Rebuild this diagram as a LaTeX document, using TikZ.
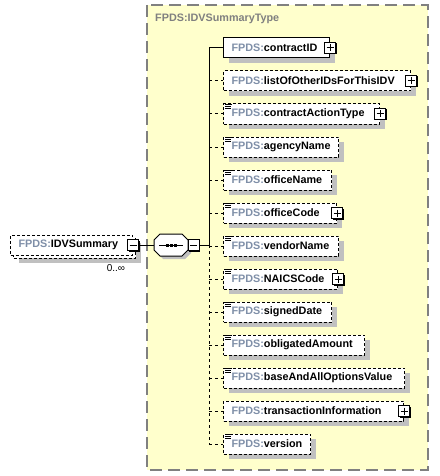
\documentclass[tikz,border=0pt]{standalone}
\usepackage{fontspec}
\setmainfont{Liberation Sans}
\usetikzlibrary{shadows,calc}
\definecolor{ylw}{RGB}{255,255,204}
\definecolor{bordergray}{RGB}{128,128,128}
\definecolor{shd}{RGB}{192,192,192}
\definecolor{pfx}{RGB}{127,143,168}
\newcommand\elt[1]{\textcolor{pfx}{FPDS:}#1}
\tikzset{
  elem/.style={draw=black, line width=1pt, fill=white, anchor=west,
    minimum height=20pt, inner xsep=8pt, inner ysep=0pt,
    text width=#1, align=left,
    font=\fontsize{10.8}{12}\selectfont\bfseries,
    drop shadow={shadow xshift=5pt,shadow yshift=-5pt,fill=shd,opacity=1}},
  optbox/.style={dash pattern=on 3pt off 2pt},
  conn/.style={line width=1pt},
  dconn/.style={line width=1pt, dash pattern=on 3pt off 3pt},
  pics/plusb/.style={code={
    \fill[black] (-4.5,-4.5) rectangle (6.5,6.5);
    \draw[fill=white, line width=1pt] (-5.5,-5.5) rectangle (5.5,5.5);
    \draw[line width=1pt] (-3.5,0) -- (3.5,0) (0,-3.5) -- (0,3.5);
  }},
  pics/minusb/.style={code={
    \fill[black] (-4.5,-4.5) rectangle (6.5,6.5);
    \draw[fill=white, line width=1pt] (-5.5,-5.5) rectangle (5.5,5.5);
    \draw[line width=1pt] (-3.5,0) -- (3.5,0);
  }},
  pics/simpleicon/.style={code={
    \draw[line width=0.9pt] (2,0.5) -- (9,0.5) (2,2.5) -- (8,2.5) (2,4.5) -- (8,4.5);
  }},
}
\begin{document}
\begin{tikzpicture}[x=1pt,y=-1pt]
\useasboundingbox (0,0) rectangle (439,476);
% type box
\draw[fill=ylw, draw=bordergray, line width=1.5pt, dash pattern=on 12pt off 6pt]
  (147,5) rectangle (428,470);
\node[anchor=west, inner sep=0pt, text=bordergray,
  font=\fontsize{10.8}{12}\selectfont\bfseries] (title) at (155,19) {FPDS:IDVSummaryType};

% elements
\node[elem=90] (e1) at (223,48) {\elt{contractID}};
\node[elem=171, optbox] (e2) at (223,81) {\elt{listOfOtherIDsForThisIDV}};
\node[elem=140, optbox] (e3) at (223,114) {\elt{contractActionType}};
\node[elem=99, optbox] (e4) at (223,147) {\elt{agencyName}};
\node[elem=92, optbox] (e5) at (223,180) {\elt{officeName}};
\node[elem=97, optbox] (e6) at (223,213) {\elt{officeCode}};
\node[elem=99, optbox] (e7) at (223,246) {\elt{vendorName}};
\node[elem=98, optbox] (e8) at (223,279) {\elt{NAICSCode}};
\node[elem=92, optbox] (e9) at (223,312) {\elt{signedDate}};
\node[elem=125, optbox] (e10) at (223,345) {\elt{obligatedAmount}};
\node[elem=165, optbox] (e11) at (223,378) {\elt{baseAndAllOptionsValue}};
\node[elem=164, optbox] (e12) at (223,411) {\elt{transactionInformation}};
\node[elem=71, optbox] (e13) at (223,444) {\elt{version}};

\foreach \n in {e1,e2,e3,e6,e8,e12} \pic at (\n.east) {plusb};
\foreach \n in {e3,e4,e5,e6,e7,e8,e9,e10,e11,e13} \pic at (\n.north west) {simpleicon};

% sequence compositor
\coordinate (jx) at (209,245);
\coordinate (seqL) at (154,245);
\coordinate (seqR) at (188,245);
\fill[shd] (163,237) -- (185,237) -- (191,243) -- (191,253) -- (185,259) -- (163,259) -- (157,253) -- (157,243) -- cycle;
\draw[fill=white, line width=1pt] (160,234) -- (182,234) -- (188,240) -- (188,250) -- (182,256) -- (160,256) -- (154,250) -- (154,240) -- cycle;
\draw[line width=1pt] (159,245) -- (183,245);
\foreach \xx in {167,171,175} \fill (\xx-1.5,243.5) rectangle (\xx+1.5,246.5);
\pic at (193.5,245) {minusb};

% tree connectors
\draw[conn] (199,245) -- (jx);
\draw[conn] (jx |- e1.west) -- (jx);
\draw[dconn] (jx) -- (jx |- e13.west);
\draw[conn] (jx |- e1.west) -- (e1.west);
\foreach \n in {e2,e3,e4,e5,e6,e7,e8,e9,e10,e11,e12,e13}
  \draw[dconn] (jx |- \n.west) -- (\n.west);

% root element
\node[elem=106, optbox] (idvback) at (13,248) {\phantom{\elt{IDVSummary}}};
\node[draw=black, line width=1pt, fill=white, anchor=west, minimum height=20pt,
  inner xsep=8pt, inner ysep=0pt, text width=106, align=left,
  font=\fontsize{10.8}{12}\selectfont\bfseries, optbox] (idv) at (10,245) {\elt{IDVSummary}};
\pic at (idv.east) {minusb};
\draw[conn] ($(idv.east)+(5.5,0)$) -- (seqL);
\node[anchor=center, inner sep=0pt, font=\fontsize{10}{12}\selectfont] (occ) at (116,268) {0..∞};
\end{tikzpicture}
\end{document}
